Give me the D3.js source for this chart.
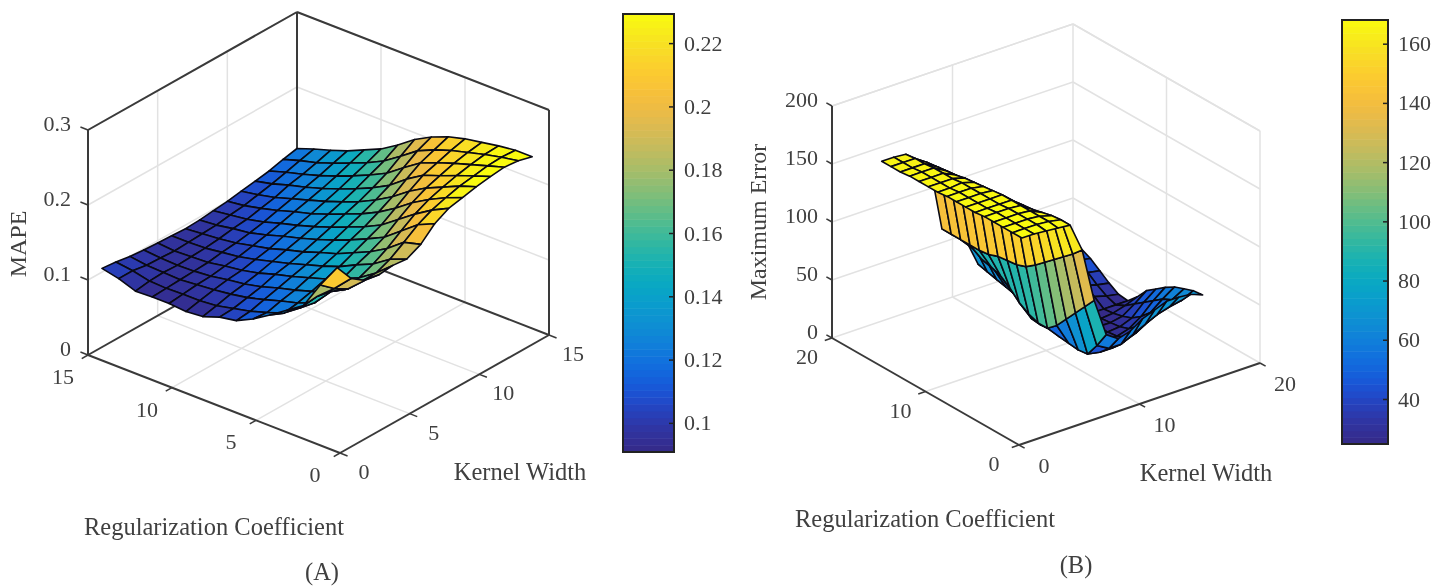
<!DOCTYPE html>
<html>
<head>
<meta charset="utf-8">
<script src="https://cdn.jsdelivr.net/npm/d3@7"></script>
<style>
    html, body { margin: 0; padding: 0; background: #fff; }
    text { font-family: "Liberation Serif", serif; fill: #404040; }
    #chart { filter: blur(0.4px); }
</style>
</head>
<body>
<svg id="chart" width="1448" height="586"></svg>
<script>
// panel A: rows follow regA (high to low), columns follow kernelA
const regA = [15, 14, 13, 12, 11, 10, 9, 8, 7, 6, 5, 4, 3, 2, 1];
const kernelA = [1, 2, 3, 4, 5, 6, 7, 8, 9, 10, 11, 12, 13, 14, 15];
const mape = [
    [.105, .103, .100, .098, .097, .096, .095, .096, .098, .100, .103, .106, .109, .114, .118],
    [.100, .100, .097, .096, .095, .096, .097, .098, .101, .103, .107, .111, .116, .121, .126],
    [.092, .095, .096, .095, .096, .097, .099, .102, .104, .108, .112, .118, .122, .127, .133],
    [.093, .094, .095, .096, .097, .100, .102, .105, .109, .114, .119, .124, .129, .135, .141],
    [.093, .095, .097, .098, .101, .103, .107, .111, .116, .121, .126, .131, .137, .144, .151],
    [.091, .095, .099, .102, .104, .108, .112, .118, .122, .127, .133, .139, .146, .153, .161],
    [.093, .097, .102, .105, .109, .114, .119, .124, .129, .135, .141, .148, .156, .164, .175],
    [.101, .102, .106, .110, .116, .120, .125, .131, .137, .144, .150, .158, .167, .179, .191],
    [.105, .107, .112, .117, .122, .127, .133, .139, .146, .153, .161, .170, .183, .195, .203],
    [.116, .114, .119, .123, .129, .134, .140, .148, .155, .164, .174, .187, .198, .205, .212],
    [.130, .122, .125, .130, .136, .142, .150, .158, .166, .178, .190, .201, .207, .213, .218],
    [.145, .138, .134, .138, .145, .153, .160, .169, .182, .194, .203, .209, .215, .219, .222],
    [.160, .162, .158, .150, .155, .163, .173, .186, .198, .207, .213, .218, .222, .225, .226],
    [.196, .181, .170, .170, .170, .178, .190, .203, .212, .218, .223, .226, .229, .230, .229],
    [.228, .203, .190, .187, .189, .187, .196, .213, .223, .227, .231, .234, .236, .234, .229]
];

// panel B
const regB = [16.3, 15.3, 14.3, 13.3, 12.3, 11.3, 10.3, 9.3, 8.3, 7.3, 6.3, 5.3, 4.3, 3.3, 2.3, 1.3];
const kernelB = [1.25, 2.25, 3.25, 4.25, 5.25, 6.25, 7.25, 8.25, 9.25, 10.25, 11.25, 12.25, 13.25, 14.25, 15.25, 16.25];
const maxError = [
    [165, 165, 164, 156, 148,  89, 83, 72, 48, 48, 48, 48, 47, 47, 47, 46],
    [165, 165, 165, 158, 150,  89, 81, 70, 46, 46, 46, 45, 45, 46, 46, 46],
    [165, 165, 165, 159, 151,  89, 78, 67, 44, 44, 43, 43, 44, 45, 46, 46],
    [166, 166, 166, 160, 152,  89, 73, 61, 42, 41, 40, 40, 41, 42, 44, 42],
    [166, 166, 166, 161, 153,  89, 71, 58, 40, 39, 37, 37, 38, 40, 38, 36],
    [166, 166, 166, 163, 154,  90, 68, 50, 38, 36, 33, 32, 33, 35, 32, 30],
    [166, 166, 167, 164, 155,  93, 62, 45, 36, 33, 30, 28, 28, 30, 27, 25],
    [167, 167, 167, 165, 156,  94, 54, 37, 34, 31, 28, 26, 24, 24, 24, 24],
    [167, 167, 167, 166, 157,  95, 49, 36, 33, 29, 27, 25, 24, 25, 28, 32],
    [167, 167, 167, 167, 158,  98, 46, 37, 32, 28, 26, 25, 25, 27, 34, 42],
    [167, 167, 167, 167, 159, 104, 46, 35, 31, 27, 25, 25, 26, 30, 40, 48],
    [168, 168, 168, 167, 160, 111, 53, 34, 30, 27, 26, 26, 29, 36, 46, 54],
    [168, 168, 168, 167, 162, 118, 63, 33, 30, 28, 28, 30, 36, 44, 52, 59],
    [168, 168, 168, 167, 164, 125, 73, 34, 32, 32, 34, 38, 44, 50, 56, 62],
    [168, 168, 168, 167, 165, 132, 83, 46, 40, 40, 45, 50, 55, 58, 60, 65],
    [168, 168, 167, 166, 165, 140, 93, 60, 53, 56, 63, 67, 71, 71, 70, 66]
];

// tick labels
const zTicksA = [0, 0.1, 0.2, 0.3];
const regTicksA = [0, 5, 10, 15];
const kernelTicksA = [0, 5, 10, 15];
const barTicksA = [0.1, 0.12, 0.14, 0.16, 0.18, 0.2, 0.22];
const zTicksB = [0, 50, 100, 150, 200];
const regTicksB = [0, 10, 20];
const kernelTicksB = [0, 10, 20];
const barTicksB = [40, 60, 80, 100, 120, 140, 160];

// parula, sampled off the colorbars
const parula = ["#352a87", "#2f36a8", "#1a51d8", "#0f6fe0", "#1187d6", "#0a9cce", "#07acc0", "#2ab7a5",
    "#55bd8c", "#8abe75", "#b5bc63", "#d8ba55", "#f5bb3f", "#fdca2f", "#f7e124", "#f9fb0e"];
const parulaAt = d3.scaleSequential(d3.interpolateRgbBasis(parula)).clamp(true);

const svg = d3.select("#chart");
const GRID = "#e2e2e2", DARK = "#3a3a3a";

function drawPanel(p) {
    const g = svg.append("g");
    // oblique projection: r and k walk along the floor edges, z goes straight up
    const rX = d3.scaleLinear().domain([p.rMax, 0]).range([0, p.front[0] - p.left[0]]);
    const rY = d3.scaleLinear().domain([p.rMax, 0]).range([0, p.front[1] - p.left[1]]);
    const kX = d3.scaleLinear().domain([0, p.kMax]).range([0, p.right[0] - p.front[0]]);
    const kY = d3.scaleLinear().domain([0, p.kMax]).range([0, p.right[1] - p.front[1]]);
    const zY = d3.scaleLinear().domain([0, p.zMax]).range([0, p.zTop - p.left[1]]);
    const at = (r, k, z) => [p.left[0] + rX(r) + kX(k), p.left[1] + rY(r) + kY(k) + zY(z)];

    const edge = (a, b, color, width) => g.append("line")
        .attr("x1", a[0]).attr("y1", a[1]).attr("x2", b[0]).attr("y2", b[1])
        .attr("stroke", color).attr("stroke-width", width);

    // Grid on floor and back walls
    p.regTicks.forEach(r => {
        if (r !== 0 && r !== p.rMax) edge(at(r, 0, 0), at(r, p.kMax, 0), GRID, 1.5);
        if (r !== 0 && r !== p.rMax) edge(at(r, p.kMax, 0), at(r, p.kMax, p.zMax), GRID, 1.5);
    });
    p.kernelTicks.forEach(k => {
        if (k !== 0 && k !== p.kMax) edge(at(0, k, 0), at(p.rMax, k, 0), GRID, 1.5);
        if (k !== 0 && k !== p.kMax) edge(at(p.rMax, k, 0), at(p.rMax, k, p.zMax), GRID, 1.5);
    });
    p.zTicks.forEach(z => {
        if (z === 0) return;
        edge(at(p.rMax, 0, z), at(p.rMax, p.kMax, z), GRID, 1.5);
        edge(at(p.rMax, p.kMax, z), at(0, p.kMax, z), GRID, 1.5);
    });

    // Back box
    const boxColor = p.box ? DARK : GRID, boxWidth = p.box ? 2 : 1.5;
    edge(at(p.rMax, 0, 0), at(p.rMax, p.kMax, 0), boxColor, boxWidth);
    edge(at(p.rMax, p.kMax, 0), at(0, p.kMax, 0), boxColor, boxWidth);
    edge(at(p.rMax, p.kMax, 0), at(p.rMax, p.kMax, p.zMax), boxColor, boxWidth);
    edge(at(0, p.kMax, 0), at(0, p.kMax, p.zMax), boxColor, boxWidth);
    edge(at(p.rMax, 0, p.zMax), at(p.rMax, p.kMax, p.zMax), boxColor, boxWidth);
    edge(at(p.rMax, p.kMax, p.zMax), at(0, p.kMax, p.zMax), boxColor, boxWidth);

    // Front axes
    edge(at(p.rMax, 0, 0), at(p.rMax, 0, p.zMax), DARK, 2);
    edge(at(p.rMax, 0, 0), at(0, 0, 0), DARK, 2);
    edge(at(0, 0, 0), at(0, p.kMax, 0), DARK, 2);

    const tickLabel = (pos, off, s, anchor) => g.append("text")
        .attr("x", pos[0] + off[0]).attr("y", pos[1] + off[1])
        .attr("text-anchor", anchor || "middle").attr("dominant-baseline", "middle")
        .attr("font-size", 22).text(s);

    p.zTicks.forEach(z => {
        edge(at(p.rMax, 0, z), at(p.rMax + p.rMax * 0.03, 0, z), DARK, 1.5);
        tickLabel(at(p.rMax, 0, z), p.zLabelOff, String(z), "end");
    });
    p.regTicks.forEach(r => {
        edge(at(r, 0, 0), at(r, -p.kMax * 0.03, 0), DARK, 1.5);
        tickLabel(at(r, 0, 0), p.regLabelOff, String(r));
    });
    p.kernelTicks.forEach(k => {
        edge(at(0, k, 0), at(-p.rMax * 0.03, k, 0), DARK, 1.5);
        tickLabel(at(0, k, 0), p.kernelLabelOff, String(k));
    });

    // Surface, far cells first so the near ones paint over them
    const color = parulaAt.copy().domain(p.barDomain);
    for (let i = 0; i < p.regs.length - 1; i++) {
        for (let j = p.kernels.length - 2; j >= 0; j--) {
            const corners = [[i, j], [i + 1, j], [i + 1, j + 1], [i, j + 1]];
            const values = corners.map(c => p.values[c[0]][c[1]]);
            // steep faces read closer to their upper edge in the original
            const shade = d3.mean(values) * (1 - p.lean) + d3.max(values) * p.lean;
            g.append("polygon")
                .attr("points", corners.map(c => at(p.regs[c[0]], p.kernels[c[1]], p.values[c[0]][c[1]]).join(",")).join(" "))
                .attr("fill", color(shade))
                .attr("stroke", "#0a0a14")
                .attr("stroke-width", 1.6)
                .attr("stroke-linejoin", "round");
        }
    }

    // Axis titles
    const title = (x, y, s) => g.append("text").attr("x", x).attr("y", y)
        .attr("text-anchor", "middle").attr("dominant-baseline", "middle")
        .attr("font-size", 24.5).text(s);
    title(p.regTitle[0], p.regTitle[1], "Regularization Coefficient");
    title(p.kernelTitle[0], p.kernelTitle[1], "Kernel Width");
    title(p.caption[0], p.caption[1], p.captionText);
    g.append("text")
        .attr("transform", `translate(${p.zTitle[0]},${p.zTitle[1]}) rotate(-90)`)
        .attr("text-anchor", "middle").attr("dominant-baseline", "middle")
        .attr("font-size", 24).text(p.zName);

    // Colorbar
    const barScale = d3.scaleLinear().domain(p.barDomain).range([p.bar.y1, p.bar.y0]);
    const bar = g.append("g");
    const steps = d3.range(64);
    const stepValue = d3.scaleLinear().domain([0, 64]).range(p.barDomain);
    bar.selectAll("rect").data(steps).join("rect")
        .attr("x", p.bar.x0).attr("width", p.bar.x1 - p.bar.x0)
        .attr("y", d => barScale(stepValue(d + 1)))
        .attr("height", d => barScale(stepValue(d)) - barScale(stepValue(d + 1)) + 0.5)
        .attr("fill", d => color(stepValue(d + 0.5)));
    bar.append("rect")
        .attr("x", p.bar.x0).attr("y", p.bar.y0)
        .attr("width", p.bar.x1 - p.bar.x0).attr("height", p.bar.y1 - p.bar.y0)
        .attr("fill", "none").attr("stroke", "#222").attr("stroke-width", 2);
    const axis = d3.axisRight(barScale).tickValues(p.barTicks).tickFormat(d => String(d))
        .tickSize(-5).tickPadding(10);
    const barAxis = g.append("g").attr("transform", `translate(${p.bar.x1},0)`).call(axis);
    barAxis.select(".domain").remove();
    barAxis.selectAll("line").attr("stroke", "#222").attr("stroke-width", 1.5);
    barAxis.selectAll("text").attr("font-size", 22)
        .style("font-family", '"Liberation Serif", serif').attr("fill", "#404040");
}

drawPanel({
    regs: regA, kernels: kernelA, values: mape, lean: 0.3,
    rMax: 15, kMax: 15, zMax: 0.3,
    left: [88, 355], front: [340, 453], right: [549, 335], zTop: 130,
    box: true,
    zTicks: zTicksA, regTicks: regTicksA, kernelTicks: kernelTicksA,
    zLabelOff: [-17, -4], regLabelOff: [-25, 24], kernelLabelOff: [24, 21],
    regTitle: [214, 529], kernelTitle: [520, 474], caption: [322, 574], captionText: "(A)",
    zTitle: [20, 244], zName: "MAPE",
    bar: { x0: 623, x1: 674, y0: 14, y1: 452 },
    barDomain: [0.0908, 0.2292], barTicks: barTicksA
});

drawPanel({
    regs: regB, kernels: kernelB, values: maxError, lean: 0.75,
    rMax: 20, kMax: 20, zMax: 200,
    left: [832, 338], front: [1019, 445], right: [1260, 363], zTop: 106,
    box: false,
    zTicks: zTicksB, regTicks: regTicksB, kernelTicks: kernelTicksB,
    zLabelOff: [-14, -4], regLabelOff: [-25, 21], kernelLabelOff: [25, 23],
    regTitle: [925, 521], kernelTitle: [1206, 475], caption: [1076, 567], captionText: "(B)",
    zTitle: [760, 222], zName: "Maximum Error",
    bar: { x0: 1342, x1: 1388, y0: 20, y1: 444 },
    barDomain: [24.8, 168], barTicks: barTicksB
});
</script>
</body>
</html>
